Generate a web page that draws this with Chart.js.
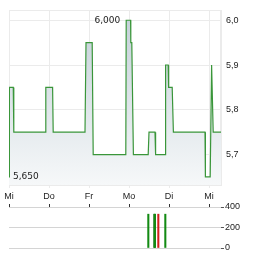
<!DOCTYPE html>
<html>
<head>
<meta charset="utf-8">
<script src="https://cdn.jsdelivr.net/npm/chart.js@4/dist/chart.umd.min.js"></script>
<style>
  body { margin: 0; background: #fff; width: 264px; height: 255px; overflow: hidden; position: relative; }
  canvas { position: absolute; left: 0; }
  #kurs { top: 0; }
  #umsatz { top: 200px; }
</style>
</head>
<body>
<canvas id="kurs" width="264" height="205"></canvas>
<canvas id="umsatz" width="264" height="55"></canvas>
<script>
// Tage (x = Handelstag, 0 = erster Mittwoch)
const dayLabels = ['Mi', 'Do', 'Fr', 'Mo', 'Di', 'Mi'];
const priceTicks = [5.7, 5.8, 5.9, 6.0];
const volumeTicks = [0, 200, 400];

// Kursverlauf
const priceX = [0, 0.01, 0.107, 0.12, 0.907, 0.92, 1.09, 1.105, 1.9, 1.925, 2.08, 2.105, 2.92, 2.93, 3.04, 3.045, 3.07, 3.11, 3.48, 3.5, 3.65, 3.665, 3.9, 3.915, 3.98, 3.99, 4.08, 4.11, 4.9, 4.91, 5.03, 5.065, 5.105, 5.3];
const priceY = [5.65, 5.85, 5.85, 5.75, 5.75, 5.85, 5.85, 5.75, 5.75, 5.95, 5.95, 5.70, 5.70, 6.0, 6.0, 5.95, 5.95, 5.70, 5.70, 5.75, 5.75, 5.70, 5.70, 5.90, 5.90, 5.85, 5.85, 5.75, 5.75, 5.65, 5.65, 5.90, 5.75, 5.75];

// Umsatz
const volumeX = [3.483, 3.633, 3.65, 3.733, 3.908];
const volumeY = [330, 330, 330, 330, 330];
const volumeColors = ['#138a13', '#0d6e0d', '#138a13', '#d42020', '#138a13'];

const gridColor = '#ebebeb';
const labelFont = { family: 'Liberation Sans, Arial, sans-serif', size: 9 };

const toComma = (v, d) => v.toFixed(d).replace('.', ',');

// Rahmen um den Kursbereich
const framePlugin = {
  id: 'frame',
  beforeDatasetsDraw(chart) {
    const a = chart.chartArea;
    const ctx = chart.ctx;
    ctx.save();
    ctx.strokeStyle = gridColor;
    ctx.lineWidth = 1;
    ctx.strokeRect(Math.round(a.left) + 0.5, Math.round(a.top) + 0.5, Math.round(a.right - a.left) - 1, Math.round(a.bottom - a.top));
    ctx.restore();
  }
};

// Hoch/Tief beschriften
const extremaPlugin = {
  id: 'extrema',
  afterDatasetsDraw(chart) {
    const xs = chart.scales.x, ys = chart.scales.y;
    const max = Math.max(...priceY), min = Math.min(...priceY);
    const iMax = priceY.indexOf(max), iMin = priceY.indexOf(min);
    const ctx = chart.ctx;
    ctx.save();
    ctx.font = '9px "DejaVu Sans", Verdana, sans-serif';
    ctx.fillStyle = '#222';
    ctx.textBaseline = 'middle';
    ctx.textAlign = 'right';
    ctx.fillText(toComma(max, 3), xs.getPixelForValue(priceX[iMax]) - 6, ys.getPixelForValue(max) + 0.5);
    ctx.textAlign = 'left';
    ctx.fillText(toComma(min, 3), xs.getPixelForValue(priceX[iMin]) + 4, ys.getPixelForValue(min));
    ctx.restore();
  }
};

new Chart(document.getElementById('kurs'), {
  type: 'line',
  data: {
    datasets: [{
      data: priceX.map((x, i) => ({ x: x, y: priceY[i] })),
      borderColor: '#3a963a',
      borderWidth: 1.2,
      pointRadius: 0,
      tension: 0,
      fill: 'start',
      backgroundColor: (ctx) => {
        const a = ctx.chart.chartArea;
        if (!a) return '#dde4e9';
        const g = ctx.chart.ctx.createLinearGradient(0, a.top, 0, a.bottom);
        g.addColorStop(0, '#c3cfd8');
        g.addColorStop(1, '#f6f8f9');
        return g;
      }
    }]
  },
  options: {
    responsive: false,
    animation: false,
    layout: { padding: { left: 9, top: 7, right: 0, bottom: 0 } },
    plugins: { legend: { display: false }, tooltip: { enabled: false } },
    scales: {
      x: {
        type: 'linear',
        min: 0,
        max: 5.3,
        afterFit: (s) => { s.height = 20; },
        afterBuildTicks: (s) => { s.ticks = dayLabels.map((_, i) => ({ value: i })); },
        grid: { color: gridColor, tickLength: 3 },
        border: { color: gridColor },
        ticks: {
          font: labelFont,
          color: '#222',
          padding: 3,
          maxRotation: 0,
          callback: (v) => dayLabels[v]
        }
      },
      y: {
        position: 'right',
        min: 5.632,
        max: 6.022,
        afterFit: (s) => { s.width = 43; },
        afterBuildTicks: (s) => { s.ticks = priceTicks.map((v) => ({ value: v })); },
        grid: { color: gridColor, drawTicks: false },
        border: { color: gridColor },
        ticks: {
          font: labelFont,
          color: '#222',
          padding: 5,
          callback: (v) => toComma(v, 1)
        }
      }
    }
  },
  plugins: [framePlugin, extremaPlugin]
});

new Chart(document.getElementById('umsatz'), {
  type: 'bar',
  data: {
    datasets: [{
      data: volumeX.map((x, i) => ({ x: x, y: volumeY[i] })),
      backgroundColor: volumeColors,
      barThickness: 1.4
    }]
  },
  options: {
    responsive: false,
    animation: false,
    layout: { padding: { left: 9, top: 4, right: 0, bottom: 7 } },
    plugins: { legend: { display: false }, tooltip: { enabled: false } },
    scales: {
      x: {
        type: 'linear',
        position: 'top',
        offset: false,
        min: 0,
        max: 5.3,
        afterFit: (s) => { s.height = 3; },
        afterBuildTicks: (s) => { s.ticks = dayLabels.map((_, i) => ({ value: i })); },
        grid: { drawOnChartArea: false, offset: false, color: '#333', tickLength: 3 },
        border: { display: false },
        ticks: { display: false }
      },
      y: {
        position: 'right',
        min: 0,
        max: 400,
        afterFit: (s) => { s.width = 43; },
        afterBuildTicks: (s) => { s.ticks = volumeTicks.map((v) => ({ value: v })); },
        grid: { color: '#d4d4d4', tickLength: 3, tickColor: '#555' },
        border: { display: false },
        ticks: {
          font: labelFont,
          color: '#222',
          padding: 1,
          callback: (v) => String(v)
        }
      }
    }
  }
});
</script>
</body>
</html>
